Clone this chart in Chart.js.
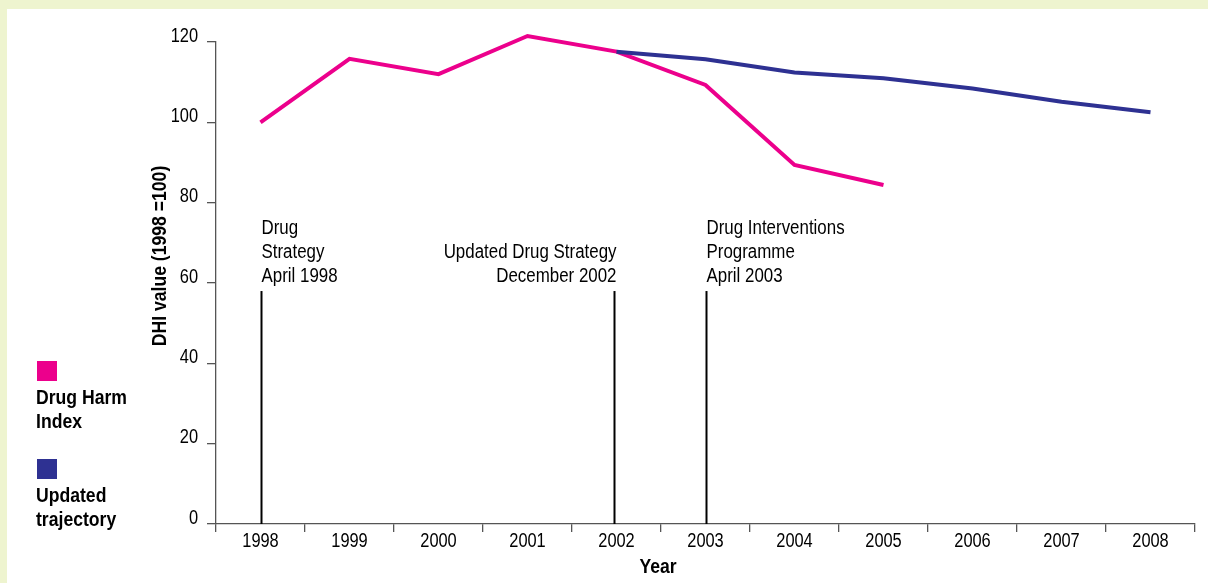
<!DOCTYPE html>
<html>
<head>
<meta charset="utf-8">
<script src="https://cdn.jsdelivr.net/npm/chart.js@4"></script>
<style>
  html, body { margin: 0; padding: 0; background: #eef4cf; }
  #wrap { width: 1208px; height: 583px; position: relative; }
</style>
</head>
<body>
<div id="wrap"><canvas id="grafico" width="1208" height="583"></canvas></div>
<script>
// dados do gráfico
const anos = ['1998', '1999', '2000', '2001', '2002', '2003', '2004', '2005', '2006', '2007', '2008'];
const indiceDanos = [100, 115.8, 112.0, 121.5, 117.6, 109.3, 89.4, 84.4, null, null, null];
const trajetoria = [null, null, null, null, 117.6, 115.7, 112.4, 111.0, 108.4, 105.1, 102.5];
const valoresY = [0, 20, 40, 60, 80, 100, 120];

// marcos (linhas verticais) - posição em índice de categoria
const marcosIndice = [0, 3.97, 5];
const marcosTopo = 58;
const marcosTexto = [
  ['Drug', 'Strategy', 'April 1998'],
  ['Updated Drug Strategy', 'December 2002'],
  ['Drug Interventions', 'Programme', 'April 2003']
];
const marcosAlinhar = ['left', 'right', 'left'];

const legendaTextos = [['Drug Harm', 'Index'], ['Updated', 'trajectory']];

// não há Arial Narrow: usa Liberation Sans comprimida na horizontal
const fonte = '"Liberation Sans", Arial, sans-serif';
const corRosa = '#ec008c';
const corAzul = '#2e3192';

function textoEstreito(c, t, x, y, alinhar, escala) {
  c.save();
  c.translate(x, y);
  c.scale(escala || 0.845, 1);
  c.textAlign = alinhar;
  c.fillText(t, 0, 0);
  c.restore();
}

// fundo branco com a moldura verde clara
const pluginFundo = {
  id: 'fundo',
  beforeDraw(chart) {
    const c = chart.ctx;
    c.save();
    c.fillStyle = '#eef4cf';
    c.fillRect(0, 0, chart.width, chart.height);
    c.fillStyle = '#ffffff';
    c.fillRect(7, 9, chart.width - 7, chart.height - 9);
    c.restore();
  }
};

// rótulos dos eixos, linhas dos marcos, títulos e legenda
const pluginExtras = {
  id: 'extras',
  afterDraw(chart) {
    const c = chart.ctx;
    const x = chart.scales.x;
    const y = chart.scales.y;
    c.save();
    c.textBaseline = 'middle';

    // rótulos Y
    c.fillStyle = '#000';
    c.font = '20px ' + fonte;
    valoresY.forEach(v => textoEstreito(c, String(v), 198, y.getPixelForValue(v) - 6, 'right', 0.82));

    // rótulos X
    anos.forEach((a, i) => textoEstreito(c, a, x.getPixelForValue(i), 541, 'center', 0.82));

    // linhas verticais
    c.strokeStyle = '#000';
    c.lineWidth = 2;
    marcosIndice.forEach((idx, i) => {
      const px = Math.round(x.getPixelForValue(idx)) + 0.5;
      c.beginPath();
      c.moveTo(px, y.getPixelForValue(marcosTopo));
      c.lineTo(px, y.getPixelForValue(0));
      c.stroke();

      // textos
      c.fillStyle = '#000';
      c.font = '20px ' + fonte;
      const linhas = marcosTexto[i];
      linhas.forEach((t, j) => {
        const ty = 276 - (linhas.length - 1 - j) * 24;
        textoEstreito(c, t, px + (marcosAlinhar[i] === 'right' ? 2 : 0), ty, marcosAlinhar[i]);
      });
    });

    // título eixo Y
    c.fillStyle = '#000';
    c.font = 'bold 20px ' + fonte;
    c.save();
    c.translate(160, 256);
    c.rotate(-Math.PI / 2);
    textoEstreito(c, 'DHI value (1998 =100)', 0, 0, 'center', 0.88);
    c.restore();

    // título eixo X
    textoEstreito(c, 'Year', 658, 567, 'center', 0.88);

    // legenda
    const cores = [corRosa, corAzul];
    const topos = [361, 459];
    legendaTextos.forEach((linhas, i) => {
      c.fillStyle = cores[i];
      c.fillRect(37, topos[i], 20, 20);
      c.fillStyle = '#000';
      c.font = 'bold 20px ' + fonte;
      linhas.forEach((t, j) => textoEstreito(c, t, 36, topos[i] + 37 + j * 24, 'left', 0.88));
    });

    c.restore();
  }
};

new Chart(document.getElementById('grafico'), {
  type: 'line',
  data: {
    labels: anos,
    datasets: [
      {
        label: 'Updated trajectory',
        data: trajetoria,
        borderColor: corAzul,
        backgroundColor: corAzul,
        borderWidth: 4,
        pointRadius: 0,
        tension: 0,
        fill: false,
        clip: false
      },
      {
        label: 'Drug Harm Index',
        data: indiceDanos,
        borderColor: corRosa,
        backgroundColor: corRosa,
        borderWidth: 4,
        pointRadius: 0,
        tension: 0,
        fill: false,
        clip: false
      }
    ]
  },
  options: {
    responsive: false,
    animation: false,
    events: [],
    layout: { padding: { left: 0, top: 42, right: 13, bottom: 0 } },
    plugins: {
      legend: { display: false },
      tooltip: { enabled: false }
    },
    scales: {
      x: {
        type: 'category',
        offset: true,
        afterFit(s) { s.height = 59; },
        grid: { offset: true, drawOnChartArea: false, tickLength: 8, color: '#555', lineWidth: 1.3 },
        border: { color: '#555', width: 1.3 },
        ticks: { display: false }
      },
      y: {
        min: 0,
        max: 120,
        afterFit(s) { s.width = 216; },
        afterBuildTicks(s) { s.ticks = valoresY.map(v => ({ value: v })); },
        grid: { drawOnChartArea: false, tickLength: 9, color: '#555', lineWidth: 1.3 },
        border: { color: '#555', width: 1.3 },
        ticks: { display: false }
      }
    }
  },
  plugins: [pluginFundo, pluginExtras]
});
</script>
</body>
</html>
